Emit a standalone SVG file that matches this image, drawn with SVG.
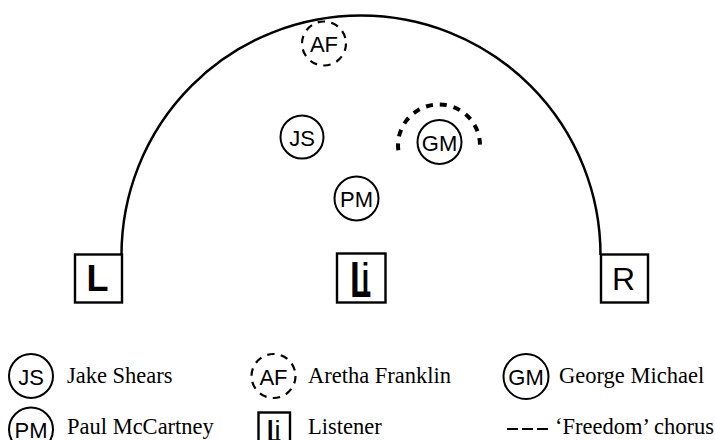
<svg xmlns="http://www.w3.org/2000/svg" width="715" height="440" viewBox="0 0 715 440">
<style>
.bg{fill:#fff}
.c{fill:#fff;stroke:#000;stroke-width:2}
.d{stroke-width:2.2;stroke-dasharray:7.5 6.3}
.box{fill:#fff;stroke:#000;stroke-width:2.4}
.ic{font-family:"Liberation Sans","DejaVu Sans",sans-serif;font-size:22px;text-anchor:middle;dominant-baseline:central;fill:#000}
.lg{font-family:"Liberation Serif","DejaVu Serif",serif;font-size:22.5px;fill:#000}
.arc{fill:none;stroke:#000;stroke-width:2.5}
.chorus{fill:none;stroke:#000;stroke-width:4;stroke-dasharray:7 7}
.sans{font-family:"Liberation Sans","DejaVu Sans",sans-serif;fill:#000}
</style>
<rect class="bg" x="0" y="0" width="715" height="440"/>
<g id="connectors">
  <path class="arc" d="M 121.5 255 A 239.5 239.5 0 0 1 600.5 255"/>
</g>
<g id="speaker-L">
  <rect class="box" x="75" y="254.5" width="47" height="48"/>
  <text class="sans" x="97.5" y="291" font-size="36" font-weight="bold" text-anchor="middle">L</text>
</g>
<g id="speaker-R">
  <rect class="box" x="601" y="254.5" width="47" height="48"/>
  <text class="sans" x="623.5" y="290" font-size="32" text-anchor="middle">R</text>
</g>
<g id="listener">
  <rect class="box" x="337" y="253.5" width="48.5" height="49"/>
  <text class="sans" transform="translate(350,297) scale(0.7,1)" font-size="50" font-weight="bold">L</text>
  <text class="sans" x="365.5" y="293" font-size="42" text-anchor="middle">i</text>
</g>
<g id="AF">
  <circle class="c d" cx="324" cy="43.5" r="22"/>
  <text class="ic" x="324" y="44">AF</text>
</g>
<g id="JS">
  <circle class="c" cx="302" cy="137" r="21.5"/>
  <text class="ic" x="302" y="138">JS</text>
</g>
<g id="PM">
  <circle class="c" cx="356.5" cy="198.5" r="22"/>
  <text class="ic" x="356.5" y="199.5">PM</text>
</g>
<g id="GM">
  <path class="chorus" d="M 398.3 150.3 A 41 41 0 1 1 480 144.6"/>
  <circle class="c" cx="439.5" cy="142" r="22"/>
  <text class="ic" x="439.5" y="143">GM</text>
</g>
<g id="legend">
  <g id="legend-JS">
    <circle class="c" cx="31" cy="376" r="22"/>
    <text class="ic" x="31" y="377">JS</text>
    <text class="lg" x="67" y="383">Jake Shears</text>
  </g>
  <g id="legend-PM">
    <circle class="c" cx="31" cy="429.5" r="22"/>
    <text class="ic" x="31" y="430.5">PM</text>
    <text class="lg" x="67" y="434">Paul McCartney</text>
  </g>
  <g id="legend-AF">
    <circle class="c d" cx="273.5" cy="376" r="22"/>
    <text class="ic" x="273.5" y="377">AF</text>
    <text class="lg" x="308" y="383">Aretha Franklin</text>
  </g>
  <g id="legend-listener">
    <rect class="box" x="258.5" y="412.5" width="31.5" height="32"/>
    <text class="sans" transform="translate(267,443) scale(0.7,1)" font-size="33" font-weight="bold">L</text>
    <text class="sans" x="277.5" y="440" font-size="27" text-anchor="middle">i</text>
    <text class="lg" x="308" y="434">Listener</text>
  </g>
  <g id="legend-GM">
    <circle class="c" cx="526" cy="376.5" r="22.5"/>
    <text class="ic" x="526" y="377.5">GM</text>
    <text class="lg" x="559" y="383">George Michael</text>
  </g>
  <g id="legend-chorus">
    <line x1="507" y1="429" x2="548" y2="429" stroke="#000" stroke-width="2" stroke-dasharray="11 4"/>
    <text class="lg" x="555" y="434">‘Freedom’ chorus</text>
  </g>
</g>
</svg>
